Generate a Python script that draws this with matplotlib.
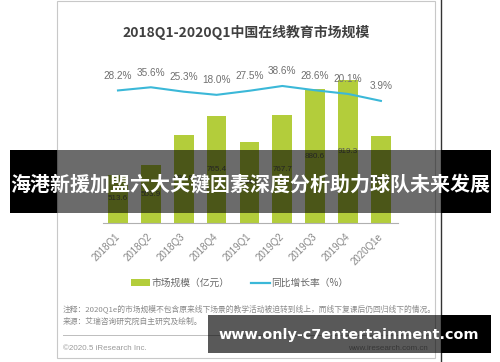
import numpy as np
import matplotlib.pyplot as plt
from matplotlib.patches import Rectangle
from matplotlib.lines import Line2D

plt.rcParams['font.family'] = ['Noto Sans CJK SC', 'DejaVu Sans']

# data
quarters = ['2018Q1', '2018Q2', '2018Q3', '2018Q4', '2019Q1',
            '2019Q2', '2019Q3', '2019Q4', '2020Q1e']
market_size = [513.6, 553.9, 684.8, 765.4, 654.8, 767.7, 880.6, 919.3, 680.3]
growth_rate = [28.2, 35.6, 25.3, 18.0, 27.5, 38.6, 28.6, 20.1, 3.9]

title = '2018Q1-2020Q1中国在线教育市场规模'
legend_labels = ['市场规模（亿元）', '同比增长率（%）']
note_text = '注释：2020Q1e的市场规模不包含原来线下场景的教学活动被迫转到线上，而线下复课后仍回归线下的情况。'
source_text = '来源：艾瑞咨询研究院自主研究及绘制。'
banner_text = '海港新援加盟六大关键因素深度分析助力球队未来发展'
watermark_text = 'www.only-c7entertainment.com'

bar_color = '#b3cd3b'
line_color = '#3bb8d8'

W, H = 500, 362
fig = plt.figure(figsize=(W / 100, H / 100), dpi=100)


def px_axes(x0, y0, x1, y1, **kw):
    # axes given in pixel coords measured from the top-left corner
    return fig.add_axes([x0 / W, 1 - y1 / H, (x1 - x0) / W, (y1 - y0) / H], **kw)


# background layer: card, border, texts
bg = px_axes(0, 0, W, H, zorder=0)
bg.set_xlim(0, W)
bg.set_ylim(H, 0)
bg.axis('off')
bg.add_patch(Rectangle((57, 1), 378, 357, fc='white', ec='#c8c8c8', lw=0.8))
bg.plot([441, 441], [0, H], color='#333333', lw=1.0)
bg.text(246, 32, title, ha='center', va='center', fontsize=10,
        fontweight='bold', color='#404040')
bg.text(63, 309, note_text, ha='left', va='center', fontsize=5.6, color='#8a8a8a')
bg.text(63, 322, source_text, ha='left', va='center', fontsize=5.6, color='#8a8a8a')
bg.plot([63, 428], [335, 335], color='#bdbdbd', lw=0.7)
bg.text(63, 348, '©2020.5 iResearch Inc.', ha='left', va='center', fontsize=5.8,
        color='#9a9a9a', family=['Liberation Sans'])
bg.text(428, 349, 'www.iresearch.com.cn', ha='right', va='center', fontsize=5.8,
        color='#9a9a9a', family=['Liberation Sans'])

# main chart
ax = px_axes(103, 60, 398, 223, zorder=5)
ax.patch.set_alpha(0)
x = np.arange(len(quarters))
y_low = 308
ax.bar(x, market_size, width=0.6, color=bar_color)
ax.set_ylim(y_low, 1005)
ax.set_xlim(-0.456, 8.52)
for i, v in enumerate(market_size):
    ax.text(i, (y_low + v) / 2, f'{v:.1f}', ha='center', va='center',
            fontsize=5.8, color='#555555', family=['Liberation Sans'])
for s in ['top', 'right', 'left']:
    ax.spines[s].set_visible(False)
ax.spines['bottom'].set_color('#b0b0b0')
ax.spines['bottom'].set_linewidth(0.8)
ax.set_yticks([])
ax.set_xticks(x)
ax.set_xticklabels(quarters, rotation=45, ha='right', va='center',
                   rotation_mode='anchor', fontsize=7, color='#888888',
                   family=['Liberation Sans'])
ax.tick_params(axis='x', length=0, pad=8.5)

ax2 = ax.twinx()
ax2.plot(x, growth_rate, color=line_color, lw=1.5)
ax2.set_ylim(-280, 99)
ax2.axis('off')
for i, r in enumerate(growth_rate):
    ax2.annotate(f'{r:.1f}%', (i, r), xytext=(0, 10.5), textcoords='offset points',
                 ha='center', va='center', fontsize=7.2, color='#707070',
                 family=['Liberation Sans'])

handles = [Rectangle((0, 0), 1, 1, fc=bar_color, ec='none'),
           Line2D([0], [0], color=line_color, lw=1.6)]
fig.legend(handles, legend_labels, loc='center', bbox_to_anchor=(240 / W, 1 - 283 / H),
           ncol=2, frameon=False, fontsize=7, handlelength=1.9, handleheight=0.6,
           handletextpad=0.2, columnspacing=2.2, labelcolor='#666666')

# overlay layer: banner and watermark
fg = px_axes(0, 0, W, H, zorder=10)
fg.set_xlim(0, W)
fg.set_ylim(H, 0)
fg.axis('off')
fg.patch.set_alpha(0)
fg.add_patch(Rectangle((10, 150), 47, 63, fc='black', ec='none'))
fg.add_patch(Rectangle((57, 150), 384, 63, fc='black', ec='none', alpha=0.58))
fg.add_patch(Rectangle((441, 150), 50, 63, fc='black', ec='none'))
fg.text(250, 184, banner_text, ha='center', va='center', fontsize=14.4,
        fontweight='bold', color='white')
fg.add_patch(Rectangle((208, 315), 233, 38, fc='black', ec='none', alpha=0.65))
fg.add_patch(Rectangle((441, 315), 50, 38, fc='black', ec='none'))
fg.text(349, 335, watermark_text, ha='center', va='center', fontsize=10.4,
        fontweight='bold', color='white', family=['DejaVu Sans'])

plt.savefig('out.png', dpi=100)
